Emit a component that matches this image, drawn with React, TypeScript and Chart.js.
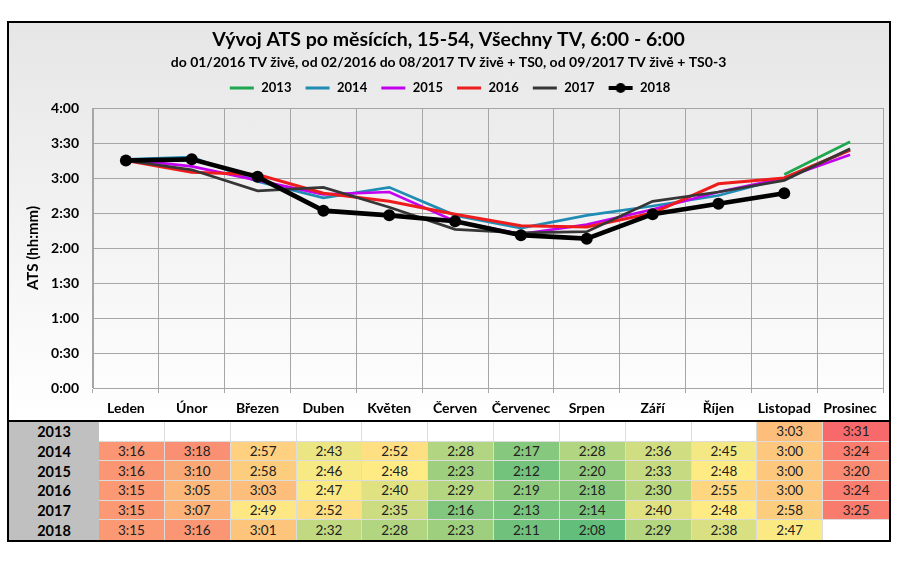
import React, { useEffect, useRef } from 'react';
import { Chart, registerables } from 'chart.js';

Chart.register(...registerables);

const months = ['Leden', 'Únor', 'Březen', 'Duben', 'Květen', 'Červen', 'Červenec', 'Srpen', 'Září', 'Říjen', 'Listopad', 'Prosinec'];
const years = ['2013', '2014', '2015', '2016', '2017', '2018'];

const v2013: (string | null)[] = [null, null, null, null, null, null, null, null, null, null, '3:03', '3:31'];
const v2014: (string | null)[] = ['3:16', '3:18', '2:57', '2:43', '2:52', '2:28', '2:17', '2:28', '2:36', '2:45', '3:00', '3:24'];
const v2015: (string | null)[] = ['3:16', '3:10', '2:58', '2:46', '2:48', '2:23', '2:12', '2:20', '2:33', '2:48', '3:00', '3:20'];
const v2016: (string | null)[] = ['3:15', '3:05', '3:03', '2:47', '2:40', '2:29', '2:19', '2:18', '2:30', '2:55', '3:00', '3:24'];
const v2017: (string | null)[] = ['3:15', '3:07', '2:49', '2:52', '2:35', '2:16', '2:13', '2:14', '2:40', '2:48', '2:58', '3:25'];
const v2018: (string | null)[] = ['3:15', '3:16', '3:01', '2:32', '2:28', '2:23', '2:11', '2:08', '2:29', '2:38', '2:47', null];

const seriesValues = [v2013, v2014, v2015, v2016, v2017, v2018];
const lineColors = ['#1fa650', '#1f8cb4', '#c400f0', '#ee1c1c', '#363636', '#000000'];

const TITLE = 'Vývoj ATS po měsících, 15-54, Všechny TV, 6:00 - 6:00';
const SUBTITLE = 'do 01/2016 TV živě, od 02/2016 do 08/2017 TV živě + TS0, od 09/2017 TV živě + TS0-3';
const Y_TITLE = 'ATS (hh:mm)';

const FONT = 'Lato';
const LEGEND_EXTRA = 3.5;

function toMin(s: string | null): number | null {
  if (s == null) return null;
  const [h, m] = s.split(':').map(Number);
  return h * 60 + m;
}

function fmt(v: number): string {
  const h = Math.floor(v / 60);
  const m = Math.round(v % 60);
  return `${h}:${String(m).padStart(2, '0')}`;
}

// Excel-like 3-color scale (min green, 50th percentile yellow, max red)
const allVals = seriesValues.flat().map(toMin).filter((v): v is number => v != null).sort((a, b) => a - b);
const vMin = allVals[0];
const vMax = allVals[allVals.length - 1];
const vMid = (() => {
  const p = 0.5 * (allVals.length - 1);
  const lo = Math.floor(p);
  const hi = Math.ceil(p);
  return allVals[lo] + (allVals[hi] - allVals[lo]) * (p - lo);
})();
const cGreen = [99, 190, 123];
const cYellow = [255, 235, 132];
const cRed = [248, 105, 107];
function scaleColor(v: number): string {
  let a: number[], b: number[], t: number;
  if (v <= vMid) {
    a = cGreen; b = cYellow; t = (v - vMin) / (vMid - vMin || 1);
  } else {
    a = cYellow; b = cRed; t = (v - vMid) / (vMax - vMid || 1);
  }
  t = Math.max(0, Math.min(1, t));
  const c = a.map((x, i) => Math.round(x + (b[i] - x) * t));
  return `rgb(${c[0]},${c[1]},${c[2]})`;
}

function makeIcon(color: string, marker: boolean): HTMLCanvasElement {
  const c = document.createElement('canvas');
  c.width = 28;
  c.height = 14;
  const ctx = c.getContext('2d')!;
  ctx.strokeStyle = color;
  ctx.lineWidth = marker ? 4 : 3;
  ctx.beginPath();
  ctx.moveTo(3, 7);
  ctx.lineTo(27, 7);
  ctx.stroke();
  if (marker) {
    ctx.fillStyle = color;
    ctx.beginPath();
    ctx.arc(15, 7, 5, 0, Math.PI * 2);
    ctx.fill();
  }
  return c;
}

const legendSpacer = {
  id: 'legendSpacer',
  beforeLayout(chart: any) {
    const lg = chart.legend;
    if (lg && !lg.__patched) {
      const orig = lg.fit;
      lg.fit = function () {
        orig.call(this);
        this.height += LEGEND_EXTRA;
      };
      lg.__patched = true;
    }
  },
};

export default function App() {
  const ref = useRef<HTMLCanvasElement>(null);

  useEffect(() => {
    const icons = lineColors.map((c, i) => makeIcon(c, i === 5));
    const datasets = years.map((y, i) => ({
      label: y,
      data: seriesValues[i].map(toMin),
      borderColor: lineColors[i],
      backgroundColor: lineColors[i],
      borderWidth: i === 5 ? 4.6 : i === 3 ? 3 : 2.7,
      pointRadius: i === 5 ? 6 : 0,
      pointHoverRadius: i === 5 ? 6 : 0,
      pointBackgroundColor: lineColors[i],
      pointBorderWidth: 0,
      tension: 0,
      spanGaps: false,
      order: 5 - i,
    }));

    const chart = new Chart(ref.current!, {
      type: 'line',
      data: { labels: months, datasets },
      plugins: [legendSpacer],
      options: {
        animation: false,
        responsive: false,
        devicePixelRatio: 1,
        layout: { padding: { left: 0, right: 1, top: 0, bottom: 0 } },
        plugins: {
          tooltip: { enabled: false },
          title: {
            display: true,
            text: TITLE,
            color: '#000',
            font: { family: FONT, size: 19.5, weight: 'bold' },
            padding: { top: 5.3, bottom: 0 },
          },
          subtitle: {
            display: true,
            text: SUBTITLE,
            color: '#000',
            font: { family: FONT, size: 14, weight: 'bold' },
            padding: { top: 1.9, bottom: 0 },
          },
          legend: {
            display: true,
            position: 'top',
            labels: {
              usePointStyle: true,
              pointStyleWidth: 28,
              padding: 11.1,
              color: '#000',
              font: { family: FONT, size: 13, weight: 'bold' },
              generateLabels: (ch: any) =>
                ch.data.datasets.map((ds: any, i: number) => ({
                  text: ds.label,
                  pointStyle: icons[i],
                  datasetIndex: i,
                  hidden: false,
                  fontColor: '#000',
                  lineWidth: 0,
                  strokeStyle: 'transparent',
                  fillStyle: 'transparent',
                })),
            },
          },
        },
        scales: {
          x: {
            type: 'category',
            offset: true,
            grid: { offset: true, color: '#a6a6a6', lineWidth: 1, drawTicks: true, tickLength: 5, tickColor: '#a6a6a6' },
            border: { display: true, color: '#a6a6a6' },
            ticks: {
              color: '#000',
              font: { family: FONT, size: 14, weight: 'bold' },
              padding: 6.6,
              maxRotation: 0,
              autoSkip: false,
            },
            afterFit: (s: any) => {
              s.height = 32;
            },
          },
          y: {
            min: 0,
            max: 240,
            grid: { color: '#a6a6a6', lineWidth: 1, drawTicks: false },
            border: { display: true, color: '#a6a6a6' },
            ticks: {
              stepSize: 30,
              color: '#000',
              padding: 14,
              font: { family: FONT, size: 14, weight: 'bold' },
              callback: (v: any) => fmt(Number(v)),
            },
            title: {
              display: true,
              text: Y_TITLE,
              color: '#000',
              font: { family: FONT, size: 15, weight: 'bold' },
              padding: { top: 15, bottom: 0 },
            },
            afterFit: (s: any) => {
              s.width = 84;
            },
          },
        },
      } as any,
    });
    return () => chart.destroy();
  }, []);

  const cellBorder = '1px solid #dcdcdc';

  return (
    <div
      style={{
        position: 'absolute',
        left: 7,
        top: 21,
        width: 884,
        height: 521,
        boxSizing: 'border-box',
        border: '2px solid #000',
        background: '#fff',
        fontFamily: FONT,
        display: 'flex',
        flexDirection: 'column',
      }}
    >
      <div style={{ height: 397, background: 'linear-gradient(#e6e6e6, #ffffff)', position: 'relative' }}>
        <canvas ref={ref} width={880} height={397} style={{ display: 'block', width: 880, height: 397 }} />
      </div>
      <div
        style={{
          flex: 1,
          borderTop: '2px solid #000',
          display: 'grid',
          gridTemplateColumns: '90px repeat(12, 1fr)',
          gridTemplateRows: 'repeat(6, 1fr)',
        }}
      >
        {years.map((y, r) => (
          <React.Fragment key={y}>
            <div
              style={{
                background: '#c0c0c0',
                fontWeight: 'bold',
                fontSize: 14.5,
                color: '#000',
                display: 'flex',
                alignItems: 'center',
                justifyContent: 'center',
              }}
            >
              {y}
            </div>
            {seriesValues[r].map((val, c) => {
              const m = toMin(val);
              return (
                <div
                  key={c}
                  style={{
                    background: m == null ? '#fff' : scaleColor(m),
                    borderRight: c < 11 ? cellBorder : 'none',
                    borderBottom: r < 5 ? cellBorder : 'none',
                    fontSize: 13.5,
                    color: '#222',
                    display: 'flex',
                    alignItems: 'center',
                    justifyContent: 'center',
                  }}
                >
                  {val ?? ''}
                </div>
              );
            })}
          </React.Fragment>
        ))}
      </div>
    </div>
  );
}
